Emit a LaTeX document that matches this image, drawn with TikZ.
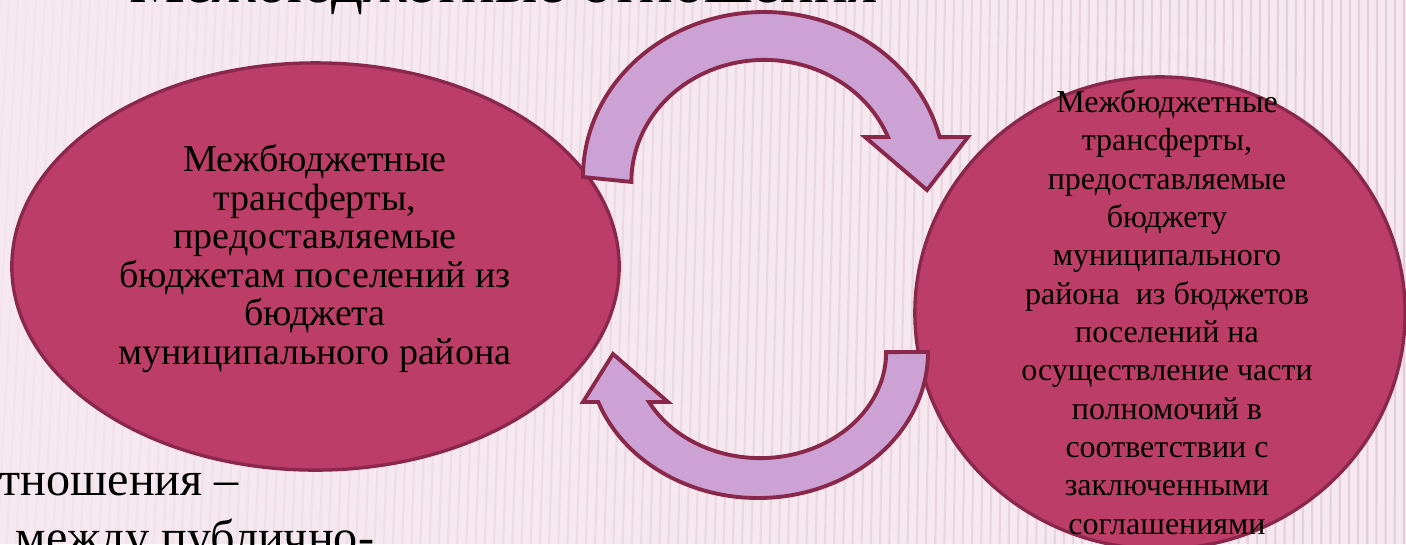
\documentclass[tikz,border=0pt]{standalone}
\usepackage{fontspec}
\setmainfont{Liberation Serif}
\definecolor{bgc}{RGB}{246,232,239}
\definecolor{stripec}{RGB}{214,188,201}
\definecolor{ellfill}{RGB}{187,61,104}
\definecolor{ellline}{RGB}{138,40,75}
\definecolor{arrfill}{RGB}{204,161,211}
\tikzset{
  ellbox/.style={ellipse, draw=ellline, fill=ellfill, line width=0.95pt, inner sep=0pt},
  bigarrow/.style={draw=ellline, fill=arrfill, line width=1.1pt, line join=miter},
  bodytext/.style={align=center, inner sep=0pt, text=black},
  slidetext/.style={anchor=base west, inner sep=0pt, text=black}
}
\usetikzlibrary{shapes.geometric}
\begin{document}
\begin{tikzpicture}[x=0.01cm,y=0.01cm]
\useasboundingbox (0,0) rectangle (1406,544);
\clip (0,0) rectangle (1406,544);
\fill[bgc] (0,0) rectangle (1406,544);
\foreach \xx in {0,9,...,1404} {
  \pgfmathsetmacro\op{0.08+0.5*\xx/1406}
  \pgfmathsetmacro\sl{30*(1-\xx/1406)}
  \draw[stripec, line width=0.6pt, opacity=\op] (\xx-\sl,0) -- (\xx,544);
}
% title (mostly cut off at the top)
\node[slidetext, font=\fontsize{17.9pt}{20pt}\selectfont] (title) at (129,542) {Межбюджетные отношения};
% lower left text fragments
\node[slidetext, font=\fontsize{13.7pt}{16pt}\selectfont] (b1) at (-1,49) {тношения –};
\node[slidetext, font=\fontsize{13.7pt}{16pt}\selectfont] (b2) at (15,-9) {между публично-};
% ellipses
\node[ellbox, minimum width=6.07cm, minimum height=4.07cm] (L) at (315.5,277.5) {};
\node[ellbox, minimum width=4.90cm, minimum height=4.72cm] (R) at (1160,231) {};
\node[bodytext, font=\fontsize{10.8pt}{10.93pt}\selectfont] (Ltext) at (315,285.5)
  {Межбюджетные\\трансферты,\\предоставляемые\\бюджетам поселений из\\бюджета\\муниципального района};
\node[bodytext, font=\fontsize{9.1pt}{10.9pt}\selectfont] (Rtext) at (1167,232)
  {Межбюджетные\\трансферты,\\предоставляемые\\бюджету\\муниципального\\района~ из бюджетов\\поселений на\\осуществление части\\полномочий в\\соответствии с\\заключенными\\соглашениями};
% curved arrows
\draw[bigarrow] (583,367) arc[start angle=180, end angle=14, x radius=181, y radius=165]
  -- (968,407) -- (927,354) -- (865,407) -- (888,407)
  arc[start angle=21.6, end angle=180, x radius=133, y radius=122] -- cycle;
\draw[bigarrow] (928,192) arc[start angle=0, end angle=-160, x radius=170, y radius=146]
  -- (583,142) -- (613,190) -- (668,142) -- (649,142)
  arc[start angle=208.1, end angle=360, x radius=126, y radius=106] -- cycle;
\end{tikzpicture}
\end{document}
